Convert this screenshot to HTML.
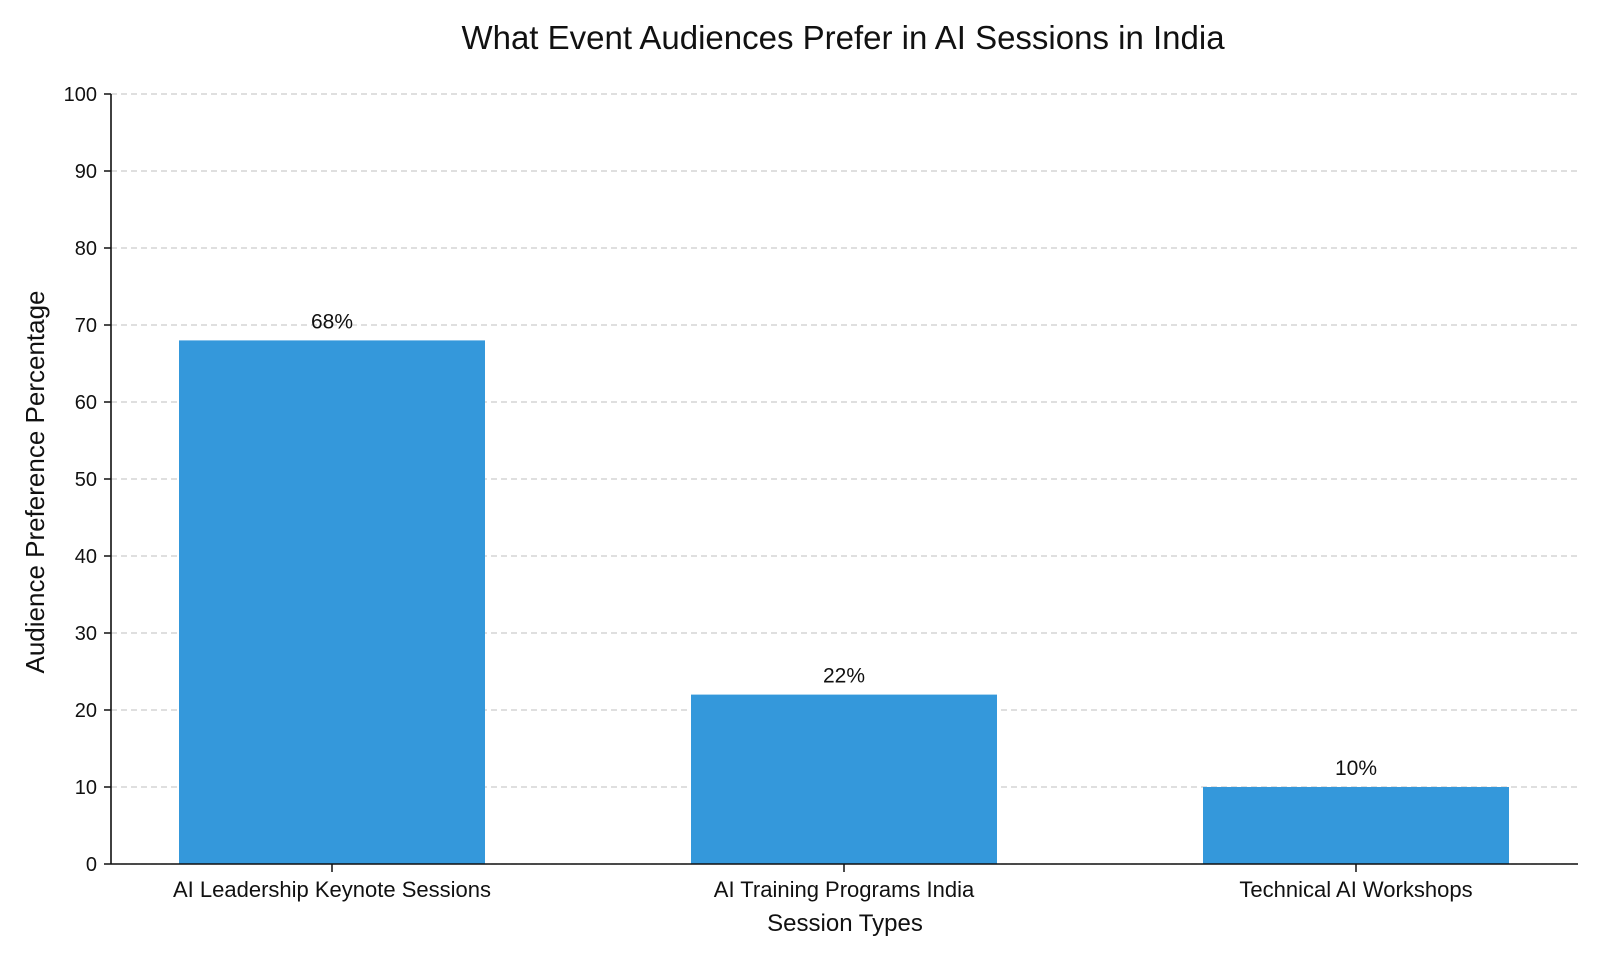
<!DOCTYPE html>
<html><head><meta charset="utf-8"><style>
body{margin:0;background:#fff;}
svg text{font-family:"Liberation Sans",sans-serif;fill:#111;}
</style></head><body>
<svg id="chart" width="1600" height="960" xmlns="http://www.w3.org/2000/svg">
<text x="843" y="49" font-size="33" text-anchor="middle">What Event Audiences Prefer in AI Sessions in India</text>
<g id="grid"></g><g id="bars"></g><g id="axes"></g>
<text x="845" y="931" font-size="24" text-anchor="middle">Session Types</text>
<text transform="translate(44,482) rotate(-90)" font-size="26" text-anchor="middle">Audience Preference Percentage</text>
</svg>
<script>
const categories=["AI Leadership Keynote Sessions","AI Training Programs India","Technical AI Workshops"];
const values=[68,22,10];
const valueLabels=["68%","22%","10%"];
const yTicks=[0,10,20,30,40,50,60,70,80,90,100];
const NS="http://www.w3.org/2000/svg";
const X0=111,X1=1578,Y0=864,Y100=94;
const y=v=>Y0+(Y100-Y0)*v/100;
const FIRST=332,STEP=512;
const xc=i=>FIRST+STEP*i;
const bw=306;
function mk(t,a,p){const e=document.createElementNS(NS,t);for(const k in a)e.setAttribute(k,a[k]);p.appendChild(e);return e;}
const grid=document.getElementById('grid'),bars=document.getElementById('bars'),axes=document.getElementById('axes');
yTicks.forEach(t=>{
 const g=mk('line',{x1:X0,x2:X1,y1:y(t),y2:y(t),stroke:'#ccc','stroke-width':1.3,'stroke-dasharray':'6,4'},grid);
 
 
 mk('line',{x1:X0-7,x2:X0,y1:y(t),y2:y(t),stroke:'#111','stroke-width':1.5},axes);
 const l=mk('text',{x:X0-14,y:y(t)+7,'font-size':20,'text-anchor':'end'},axes);
 l.textContent=t;
 
 
});
categories.forEach((c,i)=>{
 const r=mk('rect',{x:xc(i)-bw/2,y:y(values[i]),width:bw,height:Y0-y(values[i]),fill:'#3498db'},bars);
 
 
 const v=mk('text',{x:xc(i),y:y(values[i])-12,'font-size':21,'text-anchor':'middle'},bars);
 v.textContent=valueLabels[i];
 
 
 mk('line',{x1:xc(i),x2:xc(i),y1:Y0,y2:Y0+8,stroke:'#111','stroke-width':1.5},axes);
 const l=mk('text',{x:xc(i),y:Y0+33,'font-size':22,'text-anchor':'middle'},axes);
 l.textContent=c;
 
 
});
const ya=mk('line',{x1:X0,x2:X0,y1:Y100,y2:Y0,stroke:'#111','stroke-width':1.6},axes);


const xa=mk('line',{x1:X0,x2:X1,y1:Y0,y2:Y0,stroke:'#111','stroke-width':1.6},axes);


</script>
</body></html>
